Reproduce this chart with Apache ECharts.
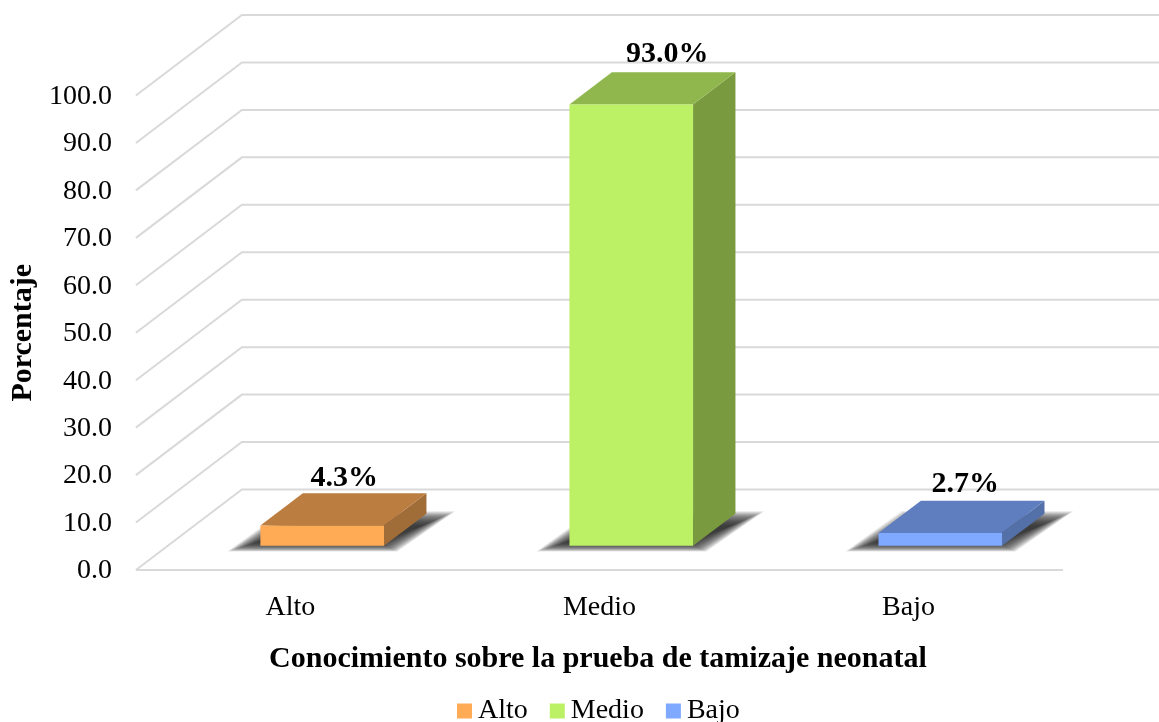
<!DOCTYPE html>
<html>
<head>
<meta charset="utf-8">
<style>html,body{margin:0;padding:0;background:#fff}#c{width:1159px;height:722px}</style>
<script src="https://cdn.jsdelivr.net/npm/echarts@6/dist/echarts.min.js"></script>
</head>
<body>
<div id="c"></div>
<script>
const categories = ['Alto', 'Medio', 'Bajo'];
const values = [4.3, 93.0, 2.7];
const yTicks = [0, 10, 20, 30, 40, 50, 60, 70, 80, 90, 100];
const frontColors = ['#FFAB56', '#BCF065', '#7FA8FF'];
const topColors = ['#BC7D40', '#8FB74D', '#5F7EBF'];
const sideColors = ['#A06C38', '#799A3F', '#5470A8'];

const FONT = '"Liberation Serif", serif';
const WALL_DX = 106, WALL_DY = -80.5;         // depth of the 3D box
const BAR_START = 0.3, BAR_DEPTH = 0.4;       // bar position in the depth
const LABEL_DX = [22, 36, 25], LABEL_DY = [-15, -18, -17];
const SHADOW_LAYERS = 30;

function renderGrid(params, api) {
  const v = api.value(0);
  const cs = params.coordSys;
  const p = api.coord([0, v]);
  const left = cs.x, right = cs.x + cs.width, y = p[1];
  const style = { stroke: '#d9d9d9', lineWidth: 2, fill: null };
  const children = [{
    type: 'polyline',
    shape: { points: [[left, y], [left + WALL_DX, y + WALL_DY], [right + WALL_DX, y + WALL_DY]] },
    style
  }];
  if (v === 0) {
    children.push({ type: 'line', shape: { x1: left, y1: y, x2: right, y2: y }, style });
  }
  return { type: 'group', children };
}

function renderBar(i) {
  return function (params, api) {
    const idx = api.value(0);
    const top = api.coord([idx, api.value(1)]);
    const base = api.coord([idx, 0]);
    const w = api.size([1, 0])[0] * 0.4;
    const ox = WALL_DX * BAR_START, oy = WALL_DY * BAR_START;
    const dx = WALL_DX * BAR_DEPTH, dy = WALL_DY * BAR_DEPTH;
    const x0 = top[0] - w / 2 + ox, x1 = x0 + w;
    const yb = base[1] + oy, yt = top[1] + oy;
    const children = [];
    // soft floor shadow, built from stacked translucent polygons
    for (let k = SHADOW_LAYERS; k >= 1; k--) {
      const e = (k - SHADOW_LAYERS / 2 - 0.5) * 0.65;
      children.push({
        type: 'polygon',
        silent: true,
        shape: { points: [
          [x0 - 18 - e * 1.6, yb + 1 + e * 0.5],
          [x1 + 4 + e, yb + 1 + e * 0.5],
          [x1 + dx + 12 + e * 1.8, yb + dy + 5 - e * 0.8],
          [x0 + dx - 10 - e, yb + dy + 5 - e * 0.8]
        ] },
        style: { fill: 'rgba(40,40,40,0.07)', stroke: null, lineWidth: 0 }
      });
    }
    children.push(
      {
        type: 'polygon',
        shape: { points: [[x1, yb], [x1 + dx, yb + dy], [x1 + dx, yt + dy], [x1, yt]] },
        style: { fill: sideColors[i] }
      },
      {
        type: 'polygon',
        shape: { points: [[x0, yt], [x1, yt], [x1 + dx, yt + dy], [x0 + dx, yt + dy]] },
        style: { fill: topColors[i] }
      },
      {
        type: 'rect',
        shape: { x: x0, y: yt, width: w, height: yb - yt },
        style: { fill: frontColors[i] }
      },
      {
        type: 'text',
        style: {
          text: api.value(1).toFixed(1) + '%',
          x: (x0 + x1) / 2 + LABEL_DX[i], y: yt + dy + LABEL_DY[i],
          align: 'center', verticalAlign: 'middle',
          font: 'bold 30px ' + FONT, fill: '#000'
        }
      }
    );
    return { type: 'group', children };
  };
}

const chart = echarts.init(document.getElementById('c'));
chart.setOption({
  animation: false,
  backgroundColor: '#fff',
  grid: { left: 133, right: 96, top: 95.5, bottom: 152 },
  legend: {
    data: categories,
    left: 452, top: 692,
    icon: 'rect',
    itemWidth: 15, itemHeight: 15,
    itemGap: 22,
    textStyle: { fontFamily: FONT, fontSize: 28, color: '#000', padding: [0, 0, 0, 1] }
  },
  xAxis: {
    type: 'category',
    data: categories,
    axisLine: { show: false },
    axisTick: { show: false },
    axisLabel: { fontFamily: FONT, fontSize: 28, color: '#000', margin: 24 },
    name: 'Conocimiento sobre la prueba de tamizaje neonatal',
    nameLocation: 'middle',
    nameGap: 74,
    nameTextStyle: { fontFamily: FONT, fontSize: 30, fontWeight: 'bold', color: '#000', padding: [0, 3, 0, 0] }
  },
  yAxis: {
    type: 'value',
    min: 0, max: 100, interval: 10,
    axisLine: { show: false },
    axisTick: { show: false },
    splitLine: { show: false },
    axisLabel: { fontFamily: FONT, fontSize: 28, color: '#000', margin: 24, verticalAlign: 'top', lineHeight: 2, formatter: v => v.toFixed(1) },
    name: 'Porcentaje',
    nameLocation: 'middle',
    nameRotate: 90,
    nameGap: 96,
    nameTextStyle: { fontFamily: FONT, fontSize: 30, fontWeight: 'bold', color: '#000' }
  },
  series: [
    {
      type: 'custom', name: '_grid', silent: true, z: 1,
      coordinateSystem: 'cartesian2d', clip: false,
      encode: { x: 1, y: 0 },
      data: yTicks.map(v => [v, 0]),
      renderItem: renderGrid
    }
  ].concat(categories.map((name, i) => ({
    type: 'custom', name, z: 2,
    coordinateSystem: 'cartesian2d', clip: false,
    encode: { x: 0, y: 1 },
    itemStyle: { color: frontColors[i] },
    data: [[i, values[i]]],
    renderItem: renderBar(i)
  })))
});
</script>
</body>
</html>
